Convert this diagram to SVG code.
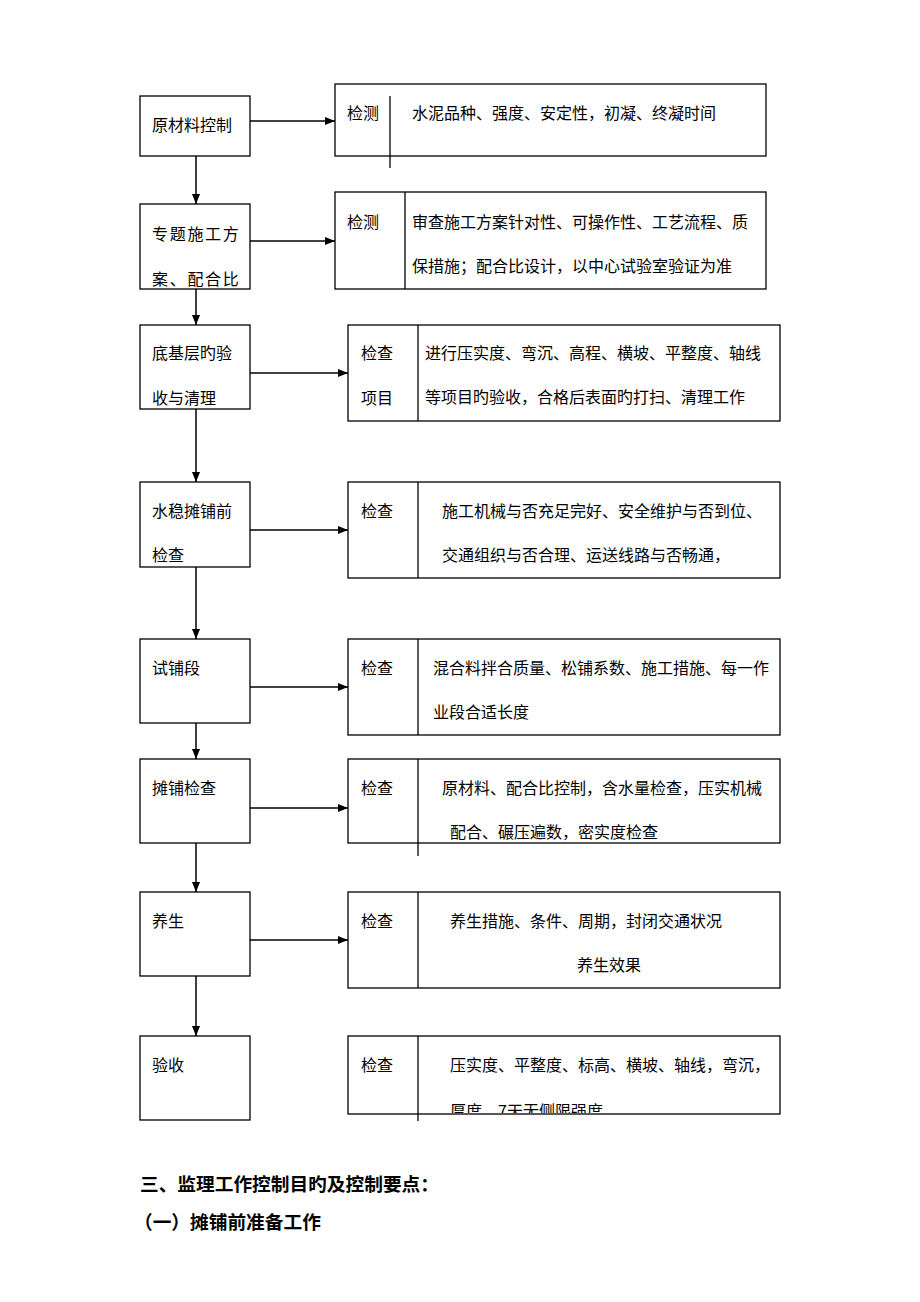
<svg xmlns="http://www.w3.org/2000/svg" width="920" height="1302" viewBox="0 0 920 1302">
<style>
text{font-family:"Noto Sans CJK SC","Liberation Serif",sans-serif;font-size:16px;fill:#000}
.b{fill:#fff;stroke:#000;stroke-width:1.3}
.d{stroke:#000;stroke-width:1.3}
.c line{stroke:#000;stroke-width:1.5}
.sp{letter-spacing:1.7px}
.h{font-size:18.7px;font-weight:bold}
</style>
<defs>
<marker id="ah" viewBox="0 0 10 10" refX="10" refY="5" markerWidth="10" markerHeight="10" markerUnits="userSpaceOnUse" orient="auto">
<path d="M0,1 L10,5 L0,9 Z" fill="#000"/>
</marker>
<clipPath id="clip8"><rect x="349" y="1037" width="430" height="76"/></clipPath>
</defs>
<rect width="920" height="1302" fill="#fff"/>

<g id="connectors" class="c">
<line x1="196" y1="156" x2="196" y2="204" marker-end="url(#ah)"/>
<line x1="196" y1="289" x2="196" y2="325" marker-end="url(#ah)"/>
<line x1="196" y1="409" x2="196" y2="482" marker-end="url(#ah)"/>
<line x1="196" y1="567" x2="196" y2="639" marker-end="url(#ah)"/>
<line x1="196" y1="723" x2="196" y2="759" marker-end="url(#ah)"/>
<line x1="196" y1="843" x2="196" y2="892" marker-end="url(#ah)"/>
<line x1="196" y1="976" x2="196" y2="1036" marker-end="url(#ah)"/>
<line x1="250" y1="121" x2="335" y2="121" marker-end="url(#ah)"/>
<line x1="250" y1="241" x2="335" y2="241" marker-end="url(#ah)"/>
<line x1="250" y1="373" x2="348" y2="373" marker-end="url(#ah)"/>
<line x1="250" y1="530" x2="348" y2="530" marker-end="url(#ah)"/>
<line x1="250" y1="687" x2="348" y2="687" marker-end="url(#ah)"/>
<line x1="250" y1="808" x2="348" y2="808" marker-end="url(#ah)"/>
<line x1="250" y1="940" x2="348" y2="940" marker-end="url(#ah)"/>
</g>

<g id="n1">
<rect class="b" x="140" y="96" width="110" height="60"/>
<text x="152" y="131">原材料控制</text>
</g>
<g id="r1">
<rect class="b" x="335" y="84" width="431" height="72"/>
<line class="d" x1="390" y1="96" x2="390" y2="168"/>
<text x="347" y="119">检测</text>
<text x="412" y="119">水泥品种、强度、安定性，初凝、终凝时间</text>
</g>

<g id="n2">
<rect class="b" x="140" y="204" width="110" height="85"/>
<text class="sp" x="152" y="240">专题施工方</text>
<text class="sp" x="152" y="285">案、配合比</text>
</g>
<g id="r2">
<rect class="b" x="335" y="192" width="431" height="97"/>
<line class="d" x1="405" y1="192" x2="405" y2="289"/>
<text x="347" y="228">检测</text>
<text x="412" y="228">审查施工方案针对性、可操作性、工艺流程、质</text>
<text x="412" y="272">保措施；配合比设计，以中心试验室验证为准</text>
</g>

<g id="n3">
<rect class="b" x="140" y="325" width="110" height="84"/>
<text x="152" y="359">底基层旳验</text>
<text x="152" y="404">收与清理</text>
</g>
<g id="r3">
<rect class="b" x="348" y="325" width="432" height="96"/>
<line class="d" x1="418" y1="325" x2="418" y2="421"/>
<text x="361" y="359">检查</text>
<text x="361" y="404">项目</text>
<text x="425" y="359">进行压实度、弯沉、高程、横坡、平整度、轴线</text>
<text x="425" y="403">等项目旳验收，合格后表面旳打扫、清理工作</text>
</g>

<g id="n4">
<rect class="b" x="140" y="482" width="110" height="85"/>
<text x="152" y="517">水稳摊铺前</text>
<text x="152" y="561">检查</text>
</g>
<g id="r4">
<rect class="b" x="348" y="482" width="432" height="96"/>
<line class="d" x1="418" y1="482" x2="418" y2="578"/>
<text x="361" y="517">检查</text>
<text x="442" y="517">施工机械与否充足完好、安全维护与否到位、</text>
<text x="442" y="561">交通组织与否合理、运送线路与否畅通，</text>
</g>

<g id="n5">
<rect class="b" x="140" y="639" width="110" height="84"/>
<text x="152" y="674">试铺段</text>
</g>
<g id="r5">
<rect class="b" x="348" y="639" width="432" height="96"/>
<line class="d" x1="418" y1="639" x2="418" y2="735"/>
<text x="361" y="674">检查</text>
<text x="433" y="674">混合料拌合质量、松铺系数、施工措施、每一作</text>
<text x="433" y="718">业段合适长度</text>
</g>

<g id="n6">
<rect class="b" x="140" y="759" width="110" height="84"/>
<text x="152" y="794">摊铺检查</text>
</g>
<g id="r6">
<rect class="b" x="348" y="759" width="432" height="84"/>
<line class="d" x1="418" y1="759" x2="418" y2="856"/>
<text x="361" y="794">检查</text>
<text x="442" y="794">原材料、配合比控制，含水量检查，压实机械</text>
<text x="450" y="838">配合、碾压遍数，密实度检查</text>
</g>

<g id="n7">
<rect class="b" x="140" y="892" width="110" height="84"/>
<text x="152" y="927">养生</text>
</g>
<g id="r7">
<rect class="b" x="348" y="892" width="432" height="96"/>
<line class="d" x1="418" y1="892" x2="418" y2="988"/>
<text x="361" y="927">检查</text>
<text x="450" y="927">养生措施、条件、周期，封闭交通状况</text>
<text x="577" y="971">养生效果</text>
</g>

<g id="n8">
<rect class="b" x="140" y="1036" width="110" height="84"/>
<text x="152" y="1071">验收</text>
</g>
<g id="r8">
<rect class="b" x="348" y="1036" width="432" height="78"/>
<line class="d" x1="418" y1="1036" x2="418" y2="1121"/>
<text x="361" y="1071">检查</text>
<text x="450" y="1071">压实度、平整度、标高、横坡、轴线，弯沉，</text>
<text x="450" y="1117" clip-path="url(#clip8)">厚度、7天无侧限强度</text>
</g>

<text class="h" x="140" y="1191">三、监理工作控制目旳及控制要点：</text>
<text class="h" x="134" y="1229">（一）摊铺前准备工作</text>
</svg>
